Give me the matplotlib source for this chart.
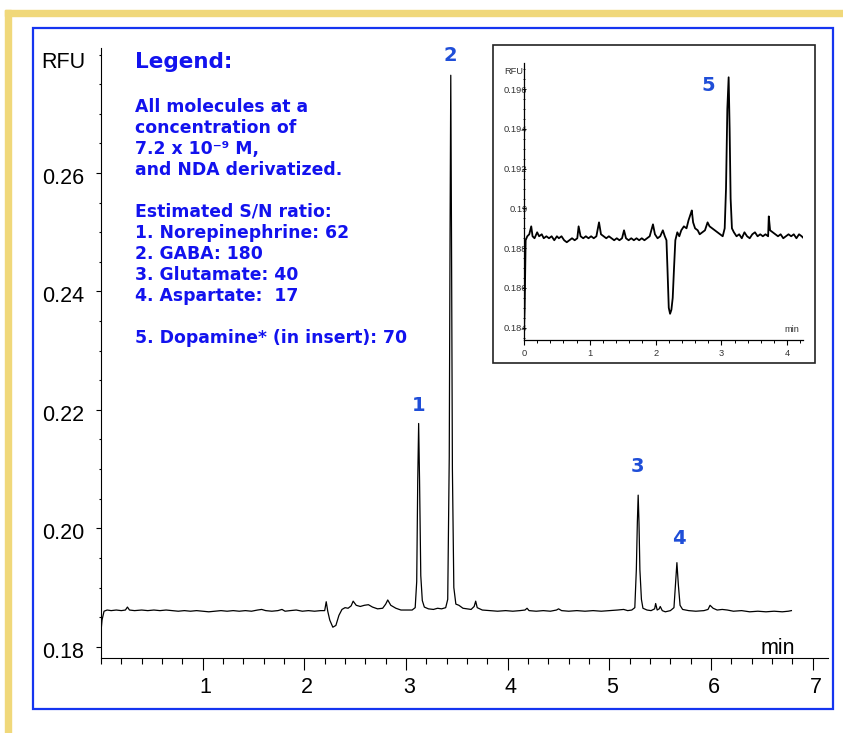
import matplotlib
matplotlib.use("Agg")
from matplotlib import pyplot as plt
from matplotlib.patches import Rectangle
from matplotlib.ticker import MultipleLocator, FixedLocator
import matplotlib.transforms as mtransforms

# main electropherogram (min, RFU)
main_t = [0.00, 0.01, 0.03, 0.06, 0.10, 0.15, 0.20, 0.24, 0.26, 0.28, 0.33, 0.40, 0.46, 0.52,
          0.58, 0.64, 0.70, 0.76, 0.82, 0.88, 0.94, 1.00, 1.06, 1.12, 1.18, 1.24, 1.30, 1.36,
          1.42, 1.48, 1.54, 1.58, 1.62, 1.68, 1.74, 1.78, 1.81, 1.86, 1.92, 1.98, 2.04, 2.10,
          2.16, 2.20, 2.215, 2.23, 2.25, 2.28, 2.31, 2.34, 2.37, 2.40, 2.43, 2.46, 2.48, 2.51,
          2.55, 2.59, 2.63, 2.67, 2.72, 2.77, 2.80, 2.82, 2.85, 2.90, 2.95, 3.00, 3.06, 3.09,
          3.105, 3.115, 3.124, 3.133, 3.145, 3.16, 3.18, 3.22, 3.27, 3.31, 3.35, 3.39, 3.41,
          3.425, 3.433, 3.44, 3.447, 3.456, 3.47, 3.49, 3.52, 3.56, 3.60, 3.64, 3.67, 3.685,
          3.70, 3.75, 3.82, 3.90, 3.98, 4.05, 4.12, 4.17, 4.19, 4.21, 4.28, 4.35, 4.42, 4.48,
          4.50, 4.53, 4.60, 4.68, 4.76, 4.84, 4.92, 5.00, 5.08, 5.14, 5.18, 5.22, 5.25, 5.265,
          5.275, 5.283, 5.291, 5.30, 5.315, 5.33, 5.37, 5.41, 5.445, 5.455, 5.47, 5.49, 5.50,
          5.52, 5.55, 5.60, 5.635, 5.65, 5.664, 5.678, 5.695, 5.72, 5.78, 5.85, 5.93, 5.97,
          5.99, 6.02, 6.06, 6.11, 6.16, 6.22, 6.30, 6.38, 6.46, 6.54, 6.62, 6.70, 6.76, 6.79]
main_rfu = [0.1826, 0.1845, 0.1860, 0.1862, 0.1861, 0.1862, 0.1861, 0.1862, 0.1867, 0.1862,
            0.1861, 0.1862, 0.1861, 0.1862, 0.1861, 0.1862, 0.1861, 0.1860, 0.1861, 0.1860,
            0.1861, 0.1860, 0.1859, 0.1860, 0.1861, 0.1860, 0.1861, 0.1860, 0.1861, 0.1860,
            0.1862, 0.1863, 0.1861, 0.1860, 0.1861, 0.1863, 0.1860, 0.1861, 0.1862, 0.1860,
            0.1861, 0.1860, 0.1861, 0.1861, 0.1876, 0.1860, 0.1845, 0.1833, 0.1836, 0.1853,
            0.1863, 0.1866, 0.1865, 0.1869, 0.1877, 0.1870, 0.1868, 0.1870, 0.1871, 0.1867,
            0.1864, 0.1865, 0.1872, 0.1879, 0.1870, 0.1865, 0.1862, 0.1862, 0.1862, 0.1866,
            0.1910, 0.2080, 0.2177, 0.2080, 0.1920, 0.1878, 0.1867, 0.1864, 0.1863, 0.1865,
            0.1864, 0.1866, 0.1880, 0.2120, 0.2500, 0.2765, 0.2500, 0.2100, 0.1900, 0.1872,
            0.1870, 0.1865, 0.1864, 0.1863, 0.1868, 0.1877, 0.1866, 0.1862, 0.1861, 0.1860,
            0.1861, 0.1860, 0.1861, 0.1862, 0.1865, 0.1861, 0.1860, 0.1861, 0.1860, 0.1862,
            0.1864, 0.1861, 0.1860, 0.1861, 0.1860, 0.1861, 0.1860, 0.1861, 0.1862, 0.1863,
            0.1861, 0.1862, 0.1866, 0.1930, 0.2010, 0.2056, 0.2010, 0.1930, 0.1880, 0.1865,
            0.1862, 0.1861, 0.1864, 0.1873, 0.1862, 0.1864, 0.1868, 0.1861, 0.1859, 0.1861,
            0.1866, 0.1905, 0.1942, 0.1905, 0.1870, 0.1863, 0.1861, 0.1860, 0.1861, 0.1863,
            0.1870, 0.1865, 0.1862, 0.1863, 0.1862, 0.1860, 0.1861, 0.1859, 0.1860, 0.1859,
            0.1860, 0.1859, 0.1860, 0.1861]

# insert (dopamine run)
ins_t = [0.000, 0.010, 0.025, 0.05, 0.08, 0.11, 0.13, 0.16, 0.20, 0.23, 0.27, 0.30, 0.34, 0.38,
         0.42, 0.46, 0.50, 0.53, 0.57, 0.61, 0.65, 0.69, 0.73, 0.77, 0.81, 0.83, 0.86, 0.90,
         0.94, 0.98, 1.02, 1.06, 1.10, 1.14, 1.17, 1.21, 1.25, 1.29, 1.33, 1.37, 1.41, 1.45,
         1.49, 1.52, 1.55, 1.59, 1.63, 1.67, 1.71, 1.75, 1.79, 1.83, 1.87, 1.91, 1.96, 1.99,
         2.03, 2.07, 2.11, 2.14, 2.165, 2.18, 2.20, 2.22, 2.24, 2.26, 2.28, 2.30, 2.33, 2.36,
         2.39, 2.43, 2.47, 2.50, 2.53, 2.55, 2.57, 2.60, 2.64, 2.67, 2.71, 2.75, 2.79, 2.82,
         2.86, 2.90, 2.94, 2.98, 3.02, 3.05, 3.07, 3.09, 3.11, 3.125, 3.14, 3.16, 3.19, 3.23,
         3.27, 3.31, 3.35, 3.39, 3.43, 3.47, 3.51, 3.55, 3.59, 3.63, 3.67, 3.71, 3.72, 3.74,
         3.78, 3.82, 3.86, 3.90, 3.94, 3.98, 4.02, 4.06, 4.10, 4.14, 4.18, 4.22, 4.25]
ins_rfu = [0.1838, 0.1850, 0.1884, 0.1886, 0.1887, 0.1891, 0.1886, 0.1885, 0.1888, 0.1886,
           0.1887, 0.1885, 0.1886, 0.1885, 0.1886, 0.1884, 0.1886, 0.1885, 0.1886, 0.1884,
           0.1883, 0.1884, 0.1885, 0.1884, 0.1885, 0.1891, 0.1886, 0.1885, 0.1886, 0.1885,
           0.1886, 0.1885, 0.1886, 0.1893, 0.1887, 0.1886, 0.1885, 0.1886, 0.1885, 0.1884,
           0.1885, 0.1884, 0.1885, 0.1889, 0.1885, 0.1884, 0.1885, 0.1884, 0.1885, 0.1884,
           0.1885, 0.1884, 0.1885, 0.1886, 0.1892, 0.1887, 0.1885, 0.1886, 0.1889, 0.1886,
           0.1884, 0.1870, 0.1850, 0.1847, 0.1849, 0.1855, 0.1870, 0.1884, 0.1888, 0.1886,
           0.1889, 0.1891, 0.1890, 0.1894, 0.1897, 0.1899, 0.1893, 0.1890, 0.1889, 0.1887,
           0.1888, 0.1889, 0.1893, 0.1891, 0.1890, 0.1889, 0.1888, 0.1887, 0.1886, 0.1890,
           0.1910, 0.1950, 0.1966, 0.1940, 0.1905, 0.1890, 0.1888, 0.1886, 0.1887, 0.1885,
           0.1888, 0.1886, 0.1885, 0.1887, 0.1888, 0.1886, 0.1887, 0.1886, 0.1887, 0.1886,
           0.1896, 0.1889, 0.1888, 0.1887, 0.1886, 0.1887, 0.1885, 0.1886, 0.1887, 0.1886,
           0.1887, 0.1885, 0.1887, 0.1886, 0.1885]

peak_names = ["1", "2", "3", "4"]
peak_t = [3.12, 3.44, 5.28, 5.68]
peak_lab_rfu = [0.2208, 0.2799, 0.2105, 0.1983]
ins_peak_name = "5"
ins_peak_t = 2.80
ins_peak_lab_rfu = 0.1962

legend_title = "Legend:"
legend_lines = ["All molecules at a", "concentration of", "7.2 x 10\u207b\u2079 M,",
                "and NDA derivatized.", "", "Estimated S/N ratio:",
                "1. Norepinephrine: 62", "2. GABA: 180", "3. Glutamate: 40",
                "4. Aspartate:  17", "", "5. Dopamine* (in insert): 70"]

W, H = 843, 733
fig = plt.figure(figsize=(W / 100, H / 100), dpi=100)

def fx(px):
    return px / W

def fy(py):
    return 1 - py / H

# page decoration: yellow frame + blue box
yellow = '#f0d87a'
fig.patches.append(Rectangle((fx(5), 0), fx(6), fy(10), transform=fig.transFigure,
                             color=yellow, zorder=0))
fig.patches.append(Rectangle((fx(5), fy(16)), 1, 6 / H, transform=fig.transFigure,
                             color=yellow, zorder=0))
fig.patches.append(Rectangle((fx(33), fy(709)), fx(833 - 33), (709 - 28) / H,
                             transform=fig.transFigure, fill=False, ec='#1535f0', lw=1.6,
                             zorder=1))

num_blue = '#1f4ed8'
txt_blue = '#1212ee'
tickfont = 'Liberation Sans'

# ---- main chart
ax = fig.add_axes([fx(101), fy(658), fx(828 - 101), (658 - 48) / H])
ax.plot(main_t, main_rfu, color='black', lw=0.9)
ax.set_xlim(0, 7.15)
ax.set_ylim(0.1781, 0.2811)
ax.spines['top'].set_visible(False)
ax.spines['right'].set_visible(False)
for s in ('left', 'bottom'):
    ax.spines[s].set_linewidth(0.8)
ax.xaxis.set_major_locator(FixedLocator([1, 2, 3, 4, 5, 6, 7]))
ax.xaxis.set_minor_locator(MultipleLocator(0.2))
ax.yaxis.set_major_locator(FixedLocator([0.18, 0.20, 0.22, 0.24, 0.26]))
ax.yaxis.set_minor_locator(MultipleLocator(0.005))
ax.set_yticklabels(['0.18', '0.20', '0.22', '0.24', '0.26'])
ax.tick_params(axis='x', which='major', length=8.5, width=0.8, pad=5, labelsize=15.5)
ax.tick_params(axis='x', which='minor', length=4, width=0.8)
ax.tick_params(axis='y', which='major', length=3.3, width=0.8, pad=9, labelsize=15.5)
ax.tick_params(axis='y', which='minor', length=1.8, width=0.8)
for lab in ax.get_xticklabels() + ax.get_yticklabels():
    lab.set_fontfamily(tickfont)
off = mtransforms.ScaledTranslation(3 / 100, 0, fig.dpi_scale_trans)
for lab in ax.get_xticklabels():
    lab.set_transform(lab.get_transform() + off)
off_y = mtransforms.ScaledTranslation(0, -3 / 100, fig.dpi_scale_trans)
for lab in ax.get_yticklabels():
    lab.set_transform(lab.get_transform() + off_y)
fig.text(fx(85), fy(62), 'RFU', ha='right', va='center', fontsize=15.5, family=tickfont)
fig.text(fx(795), fy(648), 'min', ha='right', va='center', fontsize=15.5, family=tickfont)

for name, t, v in zip(peak_names, peak_t, peak_lab_rfu):
    ax.text(t, v, name, ha='center', va='center', fontsize=14, fontweight='bold',
            color=num_blue, family='DejaVu Sans')

# legend block
fig.text(fx(135), fy(68), legend_title, ha='left', va='baseline', fontsize=15.5,
         fontweight='bold', color=txt_blue, family='DejaVu Sans')
for k, line in enumerate(legend_lines):
    if line:
        fig.text(fx(135), fy(111.7 + 21 * k), line, ha='left', va='baseline',
                 fontsize=12.4, fontweight='bold', color=txt_blue, family='DejaVu Sans')

# ---- insert
fig.patches.append(Rectangle((fx(493), fy(363)), fx(815 - 493), (363 - 45) / H,
                             transform=fig.transFigure, fill=False, ec='#222222', lw=1.2,
                             zorder=2))
ia = fig.add_axes([fx(524), fy(340), fx(803 - 524), (340 - 63) / H])
ia.patch.set_alpha(0)
ia.plot(ins_t, ins_rfu, color='black', lw=1.3)
ia.set_xlim(0, 4.24)
ia.set_ylim(0.18338, 0.19732)
ia.spines['top'].set_visible(False)
ia.spines['right'].set_visible(False)
for s in ('left', 'bottom'):
    ia.spines[s].set_linewidth(0.9)
ia.xaxis.set_major_locator(FixedLocator([0, 1, 2, 3, 4]))
ia.xaxis.set_minor_locator(MultipleLocator(0.2))
ia.yaxis.set_major_locator(FixedLocator([0.184, 0.186, 0.188, 0.190, 0.192, 0.194, 0.196]))
ia.yaxis.set_minor_locator(MultipleLocator(0.0005))
ia.set_yticklabels(['0.184', '0.186', '0.188', '0.19', '0.192', '0.194', '0.196'])
ia.tick_params(axis='x', which='major', length=3.5, width=0.8, pad=3, labelsize=6.7,
               labelcolor='#333333')
ia.tick_params(axis='x', which='minor', length=2, width=0.7)
ia.tick_params(axis='y', which='major', direction='inout', length=3, width=0.7,
               pad=-4, labelsize=6.7, labelcolor='#333333')
ia.tick_params(axis='y', which='minor', direction='inout', length=1.6, width=0.6)
for lab in ia.get_xticklabels() + ia.get_yticklabels():
    lab.set_fontfamily(tickfont)
fig.text(fx(523), fy(71), 'RFU', ha='right', va='center', fontsize=6.7, family=tickfont,
         color='#333333')
fig.text(fx(799), fy(329), 'min', ha='right', va='center', fontsize=6.7, family=tickfont,
         color='#333333')
ia.text(ins_peak_t, ins_peak_lab_rfu, ins_peak_name, ha='center', va='center', fontsize=14,
        fontweight='bold', color=num_blue, family='DejaVu Sans')

fig.savefig('out.png', dpi=100)
